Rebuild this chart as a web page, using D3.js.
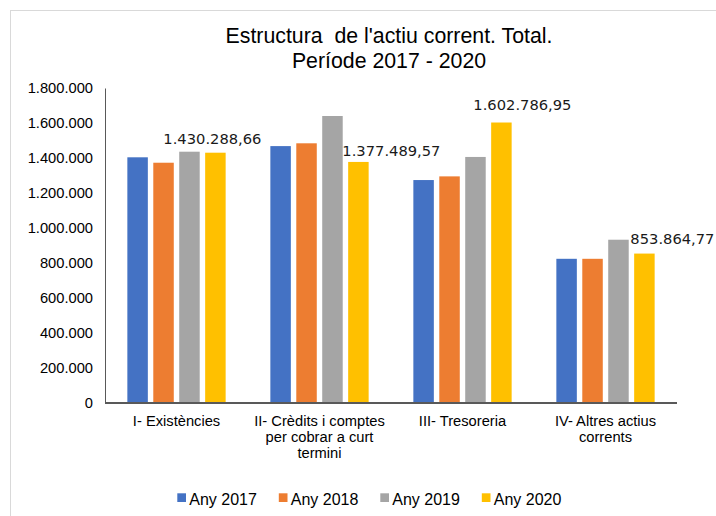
<!DOCTYPE html>
<html>
<head>
<meta charset="utf-8">
<script src="https://cdn.jsdelivr.net/npm/d3@7"></script>
<style>
    body { margin: 0; background: #fff; }
    svg { display: block; }
</style>
</head>
<body>
<svg id="chart"></svg>
<script>
// categories, one entry per line of the axis label
const categories = [
    ["I- Existències"],
    ["II- Crèdits i comptes", "per cobrar a curt", "termini"],
    ["III- Tresoreria"],
    ["IV- Altres actius", "corrents"]
];
const seriesNames = ["Any 2017", "Any 2018", "Any 2019", "Any 2020"];
const any2017 = [1404000, 1468000, 1274000, 824000];
const any2018 = [1373000, 1484000, 1295000, 824000];
const any2019 = [1436000, 1640000, 1406000, 933000];
const any2020 = [1430288.66, 1377489.57, 1602786.95, 853864.77];
const yTicks = [0, 200000, 400000, 600000, 800000, 1000000, 1200000, 1400000, 1600000, 1800000];
const titleLines = ["Estructura  de l'actiu corrent. Total.", "Període 2017 - 2020"];

// manual nudges of the 2020 value labels (as placed in the original)
const labelDx = [-3, 33, 21, 28];
const labelDy = [9, 6, 13, 10];

const colors = ["#4472C4", "#ED7D31", "#A5A5A5", "#FFC000"];
const width = 716, height = 516;
const plot = { left: 105, right: 677, top: 88, bottom: 403 };

const svg = d3.select("#chart").attr("width", width).attr("height", height);

// outer chart border (runs off the right/bottom edge)
svg.append("rect")
    .attr("x", 10.5).attr("y", 10.5)
    .attr("width", 720).attr("height", 520)
    .attr("fill", "none")
    .attr("stroke", "#d9d9d9");

const allSeries = [any2017, any2018, any2019, any2020];

const x0 = d3.scaleBand()
    .domain(d3.range(categories.length))
    .range([plot.left, plot.right])
    .paddingInner(0.3126)
    .paddingOuter(0.1563);

const x1 = d3.scaleBand()
    .domain(d3.range(seriesNames.length))
    .range([0, x0.bandwidth()])
    .paddingInner(0.21)
    .paddingOuter(0);

const y = d3.scaleLinear()
    .domain([0, 1800000])
    .range([plot.bottom, plot.top]);

const fmt = d3.formatLocale({ decimal: ",", thousands: ".", grouping: [3], currency: ["", "€"] });
const fmtInt = fmt.format(",.0f");
const fmtDec = fmt.format(",.2f");

// title
svg.append("g").selectAll("text")
    .data(titleLines)
    .enter().append("text")
    .attr("x", 389)
    .attr("y", (d, i) => 43 + i * 25)
    .attr("text-anchor", "middle")
    .attr("font-family", "Liberation Sans, Arial, sans-serif")
    .attr("font-size", "21.3px")
    .attr("fill", "#000")
    .style("white-space", "pre")
    .text(d => d);

// y axis
const yAxis = svg.append("g")
    .attr("transform", `translate(${plot.left},0)`)
    .call(d3.axisLeft(y).tickValues(yTicks).tickSize(0).tickPadding(12).tickFormat(fmtInt));
yAxis.select(".domain").attr("stroke", "#595959").attr("stroke-width", 1);
yAxis.selectAll("text")
    .attr("font-family", "Liberation Sans, Arial, sans-serif")
    .attr("font-size", "14.7px")
    .attr("fill", "#000");

// bars
const groups = svg.append("g").selectAll("g")
    .data(categories.map((c, i) => i))
    .enter().append("g")
    .attr("transform", i => `translate(${x0(i)},0)`);

groups.selectAll("rect")
    .data(i => allSeries.map((s, k) => ({ k, v: s[i] })))
    .enter().append("rect")
    .attr("x", d => x1(d.k))
    .attr("y", d => y(d.v))
    .attr("width", x1.bandwidth())
    .attr("height", d => y(0) - y(d.v))
    .attr("fill", d => colors[d.k]);

// x axis line
svg.append("line")
    .attr("x1", plot.left).attr("x2", plot.right)
    .attr("y1", plot.bottom).attr("y2", plot.bottom)
    .attr("stroke", "#595959")
    .attr("stroke-width", 2);

// category labels
const catLabels = svg.append("g").selectAll("text")
    .data(categories)
    .enter().append("text")
    .attr("text-anchor", "middle")
    .attr("font-family", "Liberation Sans, Arial, sans-serif")
    .attr("font-size", "14.7px")
    .attr("fill", "#000");
catLabels.selectAll("tspan")
    .data((d, i) => d.map(line => ({ line, i })))
    .enter().append("tspan")
    .attr("x", d => x0(d.i) + x0.bandwidth() / 2)
    .attr("y", (d, j) => 426 + j * 16)
    .text(d => d.line);

// value labels for Any 2020
svg.append("g").selectAll("text")
    .data(any2020)
    .enter().append("text")
    .attr("x", (d, i) => x0(i) + x1(3) + x1.bandwidth() / 2 + labelDx[i])
    .attr("y", (d, i) => y(d) - labelDy[i])
    .attr("text-anchor", "middle")
    .attr("font-family", "DejaVu Sans, sans-serif")
    .attr("font-size", "14.7px")
    .attr("fill", "#1a1a1a")
    .text(d => fmtDec(d));

// legend
const legend = svg.append("g").selectAll("g")
    .data(seriesNames)
    .enter().append("g")
    .attr("transform", (d, i) => `translate(${177.3 + i * 101.5},0)`);
legend.append("rect")
    .attr("x", 0).attr("y", 493.3)
    .attr("width", 8.7).attr("height", 8.7)
    .attr("fill", (d, i) => colors[i]);
legend.append("text")
    .attr("x", 12).attr("y", 505)
    .attr("font-family", "Liberation Sans, Arial, sans-serif")
    .attr("font-size", "16px")
    .attr("fill", "#000")
    .text(d => d);
</script>
</body>
</html>
